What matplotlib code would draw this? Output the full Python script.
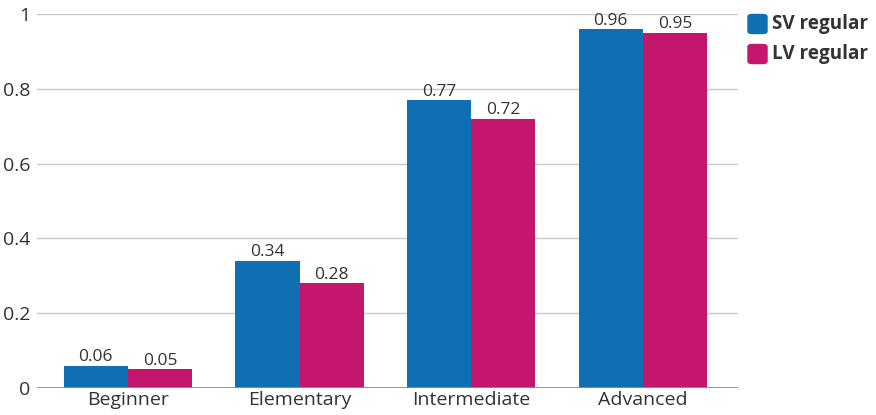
import matplotlib
matplotlib.use("Agg")
import matplotlib.pyplot as plt
from matplotlib.patches import FancyBboxPatch
import numpy as np

categories = ["Beginner", "Elementary", "Intermediate", "Advanced"]
sv_regular = [0.06, 0.34, 0.77, 0.96]
lv_regular = [0.05, 0.28, 0.72, 0.95]
series_names = ["SV regular", "LV regular"]
y_ticks = [0, 0.2, 0.4, 0.6, 0.8, 1]
y_tick_labels = ["0", "0.2", "0.4", "0.6", "0.8", "1"]

blue = "#106EB3"
magenta = "#C5166D"
text_color = "#333333"

plt.rcParams["font.family"] = ["Open Sans", "DejaVu Sans"]

fig = plt.figure(figsize=(8.76, 4.15), dpi=100)
ax = fig.add_axes([37 / 876, 1 - 388 / 415, (738 - 37) / 876, (388 - 14) / 415])

x = np.arange(len(categories))
w = 0.374
b1 = ax.bar(x - w / 2, sv_regular, w, color=blue, zorder=3)
b2 = ax.bar(x + w / 2, lv_regular, w, color=magenta, zorder=3)

for bars, vals in ((b1, sv_regular), (b2, lv_regular)):
    for r, v in zip(bars, vals):
        ax.annotate(f"{v:.2f}", (r.get_x() + r.get_width() / 2, v),
                    xytext=(0, 3.2), textcoords="offset points",
                    ha="center", va="baseline", fontsize=12.5, color=text_color)

ax.set_xlim(-0.53, 3.555)
ax.set_ylim(0, 1.0)
ax.set_yticks(y_ticks)
ax.set_yticklabels(y_tick_labels)
ax.set_xticks(x)
ax.set_xticklabels(categories)
ax.tick_params(axis="both", length=0, labelsize=14, colors=text_color)
ax.tick_params(axis="y", pad=5)
ax.tick_params(axis="x", pad=2)

for yv in y_ticks[1:]:
    ax.axhline(yv, color="#C8C8C8", lw=1, zorder=1)
ax.axhline(0, color="#8C8C8C", lw=1.3, zorder=4)

for s in ax.spines.values():
    s.set_visible(False)

# legend with rounded swatches
for i, (name, col) in enumerate(zip(series_names, [blue, magenta])):
    yc = 1 - (24 + i * 30) / 415
    sw = FancyBboxPatch((748 / 876, yc - 9.5 / 415), 19 / 876, 19 / 415,
                        boxstyle="round,pad=0,rounding_size=0.005",
                        transform=fig.transFigure, color=col, zorder=5)
    fig.patches.append(sw)
    fig.text(772 / 876, yc, name, ha="left", va="center", fontsize=13.6,
             fontweight="bold", color=text_color)

fig.savefig("out.png", dpi=100)
